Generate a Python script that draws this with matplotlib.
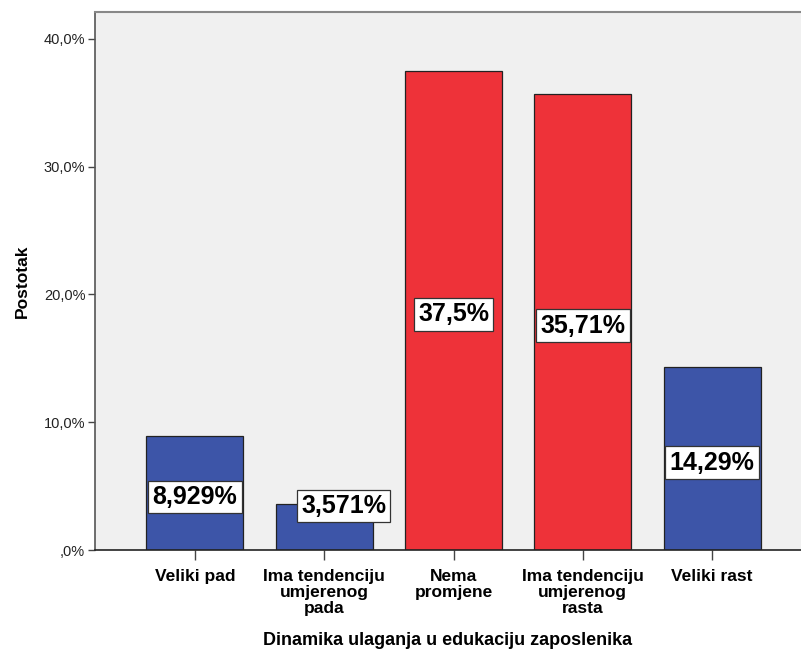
import matplotlib.pyplot as plt

plt.rcParams['font.family'] = ['Liberation Sans', 'DejaVu Sans']

categories = ["Veliki pad", "Ima tendenciju\numjerenog\npada", "Nema\npromjene",
              "Ima tendenciju\numjerenog\nrasta", "Veliki rast"]
values = [8.929, 3.571, 37.5, 35.71, 14.29]
value_labels = ["8,929%", "3,571%", "37,5%", "35,71%", "14,29%"]
colors = ["#3d55a8", "#3d55a8", "#ee3239", "#ee3239", "#3d55a8"]
yticks = [0, 10, 20, 30, 40]
ytick_labels = [",0%", "10,0%", "20,0%", "30,0%", "40,0%"]

fig = plt.figure(figsize=(8.01, 6.52), dpi=100)
ax = fig.add_axes([95 / 801, 102 / 652, 706 / 801, 538 / 652])
ax.set_facecolor("#f0f0f0")

x = list(range(len(categories)))
ax.bar(x, values, width=0.75, color=colors, edgecolor="#222222", linewidth=0.9, zorder=2)

for i, v in enumerate(values):
    if v < 5:
        # too short for the label inside, push it up and to the right
        lx, ly = i + 0.15, v * 0.96
    else:
        lx, ly = i, v / 2 - 0.3
    ax.text(lx, ly, value_labels[i], ha="center", va="center", fontsize=18,
            fontweight="bold", color="black", zorder=3,
            bbox=dict(boxstyle="square,pad=0.17", facecolor="white",
                      edgecolor="#333333", linewidth=0.9))

ax.set_xlim(-0.773, 4.687)
ax.set_ylim(0, 42.11)
ax.set_xticks(x)
ax.set_xticklabels(categories, fontsize=12.5, fontweight="bold", linespacing=1.05)
ax.set_yticks(yticks)
ax.set_yticklabels(ytick_labels, fontsize=10.5, color="#222222")
ax.tick_params(axis="x", length=7, width=1, color="#444444", pad=7)
ax.tick_params(axis="y", length=5, width=1, color="#444444", pad=2)

ax.spines["right"].set_visible(False)
ax.spines["top"].set_color("#888888")
ax.spines["top"].set_linewidth(1.5)
ax.spines["left"].set_color("#555555")
ax.spines["left"].set_linewidth(1.2)
ax.spines["bottom"].set_color("#222222")
ax.spines["bottom"].set_linewidth(1.2)

ax.set_xlabel("Dinamika ulaganja u edukaciju zaposlenika", fontsize=13,
              fontweight="bold", labelpad=12)
ax.set_ylabel("Postotak", fontsize=12.5, fontweight="bold", labelpad=10)

fig.savefig("out.png", dpi=100)
